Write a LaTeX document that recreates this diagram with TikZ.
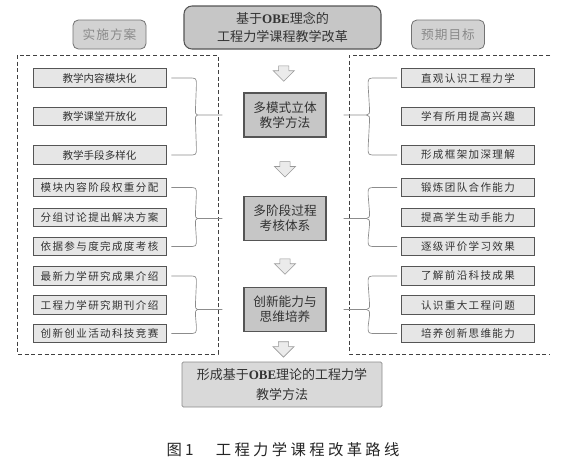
\documentclass[tikz,border=0pt]{standalone}
\usepackage{fontspec}
\setmainfont{Noto Sans CJK SC}
\newfontfamily\obefont{Liberation Serif}
\usetikzlibrary{shapes.arrows,calc}

\definecolor{boxline}{HTML}{555555}
\definecolor{midfill}{HTML}{C6C6C6}
\definecolor{itemfill}{HTML}{E6E6E6}
\definecolor{tagfill}{HTML}{D2D2D2}
\definecolor{tagtext}{HTML}{8A8A8A}
\definecolor{bracecol}{HTML}{8C8C8C}

\begin{document}
\begin{tikzpicture}[
  x=0.75pt, y=-0.75pt,
  every node/.style={align=center, inner sep=2pt, text=black!80},
  goalbox/.style={draw=boxline, fill=midfill, rounded corners=6pt, line width=0.8pt,
                  minimum width=147.75pt, minimum height=32.25pt,
                  font=\fontsize{9.8}{13.5}\selectfont},
  tagbox/.style={draw=black!55, fill=tagfill, rounded corners=4pt, line width=0.6pt,
                 minimum width=54.75pt, minimum height=21.75pt, text=tagtext,
                 font=\fontsize{9.5}{11}\selectfont\addfontfeature{LetterSpace=8}},
  midbox/.style={draw=boxline, fill=midfill, line width=0.8pt,
                 minimum width=61.5pt, minimum height=33pt,
                 font=\fontsize{9.5}{11.25}\selectfont},
  itembox/.style={draw=boxline, fill=itemfill, line width=0.6pt,
                  minimum width=99.75pt, minimum height=13.9pt, inner sep=1pt,
                  font=\fontsize{7.9}{9}\selectfont\addfontfeature{LetterSpace=13}},
  tight/.style={font=\fontsize{7.9}{9}\selectfont},
  finalbox/.style={draw=black!45, fill=black!15, rounded corners=1pt, line width=0.6pt,
                   minimum width=150pt, minimum height=33.75pt,
                   font=\fontsize{9.75}{15}\selectfont},
  downarrow/.style={shape=single arrow, rotate=-90, draw=black!40, fill=black!8,
                    line width=0.5pt, minimum height=11.5pt, inner sep=3.6pt,
                    single arrow head extend=4pt, single arrow head indent=0pt},
  frame/.style={draw=black!75, line width=0.6pt, dash pattern=on 3pt off 2pt},
  brace/.style={draw=bracecol, line width=0.5pt},
  caption/.style={font=\fontsize{11.5}{13}\selectfont\addfontfeature{LetterSpace=22}, text=black!85}
]
  \fill[white] (0,0) rectangle (578,464);
  \useasboundingbox (0,0) rectangle (578,464);

  % dashed frames
  \draw[frame] (17,55) rectangle (218,354);
  \draw[frame] (550,55) -- (349,55) -- (349,354) -- (550,354);

  % main column
  \node[goalbox] (goal) at (282.5,27.5) {基于{\obefont\bfseries OBE}理念的\\工程力学课程教学改革};
  \node[tagbox] (impl) at (109.5,34.5) {实施方案};
  \node[tagbox] (target) at (448,34.5) {预期目标};
  \node[midbox] (m1) at (285,115) {多模式立体\\教学方法};
  \node[midbox] (m2) at (285,218.5) {多阶段过程\\考核体系};
  \node[midbox] (m3) at (285,309.5) {创新能力与\\思维培养};
  \node[finalbox] (result) at (282,384.5) {形成基于{\obefont\bfseries OBE}理论的工程力学\\教学方法};

  % left items
  \node[itembox, tight] (l1) at (99.5,78) {教学内容模块化};
  \node[itembox, tight] (l2) at (99.5,116.5) {教学课堂开放化};
  \node[itembox, tight] (l3) at (99.5,155) {教学手段多样化};
  \node[itembox] (l4) at (99.5,187.5) {模块内容阶段权重分配};
  \node[itembox] (l5) at (99.5,217.5) {分组讨论提出解决方案};
  \node[itembox] (l6) at (99.5,246.5) {依据参与度完成度考核};
  \node[itembox] (l7) at (99.5,276) {最新力学研究成果介绍};
  \node[itembox] (l8) at (99.5,305) {工程力学研究期刊介绍};
  \node[itembox] (l9) at (99.5,333.5) {创新创业活动科技竞赛};

  % right items
  \node[itembox] (r1) at (468,78) {直观认识工程力学};
  \node[itembox] (r2) at (468,116.5) {学有所用提高兴趣};
  \node[itembox] (r3) at (468,155) {形成框架加深理解};
  \node[itembox] (r4) at (468,187.5) {锻炼团队合作能力};
  \node[itembox] (r5) at (468,217.5) {提高学生动手能力};
  \node[itembox] (r6) at (468,246.5) {逐级评价学习效果};
  \node[itembox] (r7) at (468,276) {了解前沿科技成果};
  \node[itembox] (r8) at (468,305) {认识重大工程问题};
  \node[itembox] (r9) at (468,333.5) {培养创新思维能力};

  % block arrows
  \node[downarrow] (a1) at ($(goal.south)!.5!(m1.north)$) {};
  \node[downarrow] (a2) at ($(m1.south)!.5!(m2.north)$) {};
  \node[downarrow] (a3) at ($(m2.south)!.5!(m3.north)$) {};
  \node[downarrow] (a4) at ($(m3.south)!.5!(result.north)$) {};

  % braces
  \foreach \a/\b/\c in {l1/l3/m1, l4/l6/m2, l7/l9/m3} {
    \draw[brace] ($(\a.east)+(5,0)$) -- ($(\a.east)+(22,0)$)
      .. controls ($(\a.east)+(30,0)$) .. ($(\a.east)+(30,7)$)
      -- ($(\c.west)+(-48,-6)$) .. controls ($(\c.west)+(-48,-1)$) .. ($(\c.west)+(-46,0)$)
      -- ($(\c.west)+(-21,0)$);
    \draw[brace] ($(\c.west)+(-46,0)$) .. controls ($(\c.west)+(-48,1)$) .. ($(\c.west)+(-48,6)$)
      -- ($(\b.east)+(30,-7)$) .. controls ($(\b.east)+(30,0)$) .. ($(\b.east)+(22,0)$)
      -- ($(\b.east)+(5,0)$);
  }
  \foreach \a/\b/\c in {r1/r3/m1, r4/r6/m2, r7/r9/m3} {
    \draw[brace] ($(\a.west)+(-4,0)$) -- ($(\a.west)+(-25,0)$)
      .. controls ($(\a.west)+(-33,0)$) .. ($(\a.west)+(-33,7)$)
      -- ($(\c.east)+(43,-6)$) .. controls ($(\c.east)+(43,-1)$) .. ($(\c.east)+(40,0)$)
      -- ($(\c.east)+(17,0)$);
    \draw[brace] ($(\c.east)+(40,0)$) .. controls ($(\c.east)+(43,1)$) .. ($(\c.east)+(43,6)$)
      -- ($(\b.west)+(-33,-7)$) .. controls ($(\b.west)+(-33,0)$) .. ($(\b.west)+(-25,0)$)
      -- ($(\b.west)+(-4,0)$);
  }

  \node[caption] (cap) at (283,450) {图1　工程力学课程改革路线};
\end{tikzpicture}
\end{document}
